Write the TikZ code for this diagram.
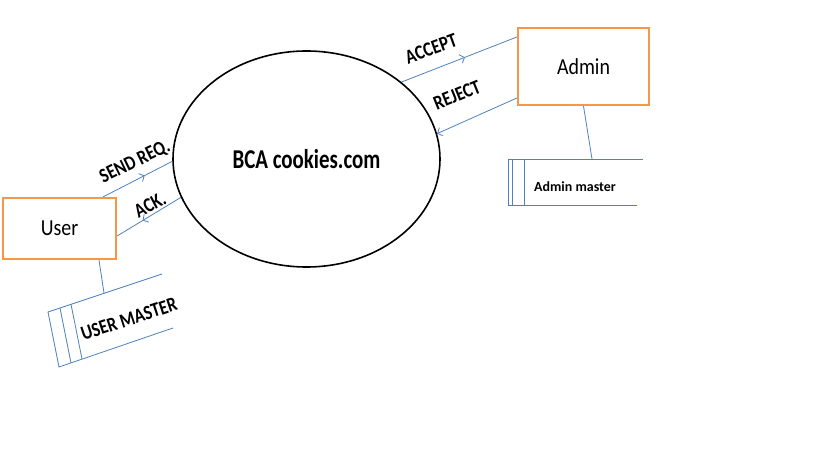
\documentclass[tikz,border=0pt]{standalone}
\usepackage{fontspec}
\setmainfont{Carlito}
\usetikzlibrary{shapes.geometric,arrows.meta,decorations.markings}
\pgfdeclarelayer{bg}
\pgfsetlayers{bg,main}
\definecolor{boxorange}{HTML}{F79646}
\definecolor{flowblue}{HTML}{4F81BD}
\newcommand{\tallbox}[2][1.2]{\scalebox{1}[#1]{#2}}
\tikzset{
        entity/.style={draw=boxorange, line width=2.2bp, fill=white, inner sep=0pt,
                font=\fontsize{20}{24}\selectfont},
        flow/.style={draw=flowblue, line width=0.8bp},
        midarrow/.style={flow, postaction={decorate}, decoration={markings,
                mark=at position #1 with {\arrow{Straight Barb[length=4bp,width=9bp]}}}},
        endarrow/.style={flow, -{Straight Barb[length=4bp,width=9bp]}},
        flowlabel/.style={font=\bfseries\fontsize{17}{20}\selectfont, inner sep=0pt},
}

\begin{document}
\begin{tikzpicture}[x=1bp, y=-1bp]
        \useasboundingbox (0,0) rectangle (819,460);
        \node (bca) [draw, ellipse, line width=1.6bp, inner sep=0pt, minimum width=267bp, minimum height=216bp,
                font=\bfseries\fontsize{21}{24}\selectfont] at (306.5,159) {\tallbox[1.3]{BCA cookies.com}};
        \node (user) [entity, minimum width=113bp, minimum height=61bp] at (59.5,228.5) {\tallbox[1.15]{User}};
        \node (admin) [entity, minimum width=131bp, minimum height=77bp] at (583.5,66.5) {\tallbox[1.15]{Admin}};
        \coordinate (amtop) at (592,159);
        \coordinate (umtop) at (104,293);
        % data stores
        \draw [flow] (643,159) -- (508,159) -- (508,205) -- (637,205);
        \draw [flow] (512,159) -- (512,205);
        \draw [flow] (524,159) -- (524,205);
        \node (amlabel) [font=\bfseries\fontsize{14}{16}\selectfont] at (575,187) {Admin master};
        \draw [flow] (162,274) -- (48,312) -- (59,367) -- (173,328);
        \draw [flow] (60,308) -- (71,363);
        \draw [flow] (71,304.3) -- (82,359);
        \node (umlabel) [flowlabel, rotate=18] at (129,319) {\tallbox{USER MASTER}};
        % flow labels
        \node (sendreq) [flowlabel, rotate=26] at (135,162) {\tallbox{SEND REQ.}};
        \node (ack) [flowlabel, rotate=28] at (150,205) {\tallbox{ACK.}};
        \node (accept) [flowlabel, rotate=20] at (431,49) {\tallbox{ACCEPT}};
        \node (reject) [flowlabel, rotate=22] at (457,95) {\tallbox{REJECT}};
        \begin{pgfonlayer}{bg}
                \draw ([xshift=-14bp]user.north east) edge [midarrow=0.6] (bca.181);
                \draw (bca.197) edge [midarrow=0.6] ([yshift=-7.5bp]user.east);
                \draw (bca.39) edge [midarrow=0.55] ([yshift=29.5bp]admin.west);
                \draw ([yshift=-31.5bp]admin.west) edge [endarrow] (bca.11);
                \draw (admin.south) edge [flow] (amtop);
                \draw ([xshift=39.5bp]user.south) edge [flow] (umtop);
        \end{pgfonlayer}
\end{tikzpicture}
\end{document}
